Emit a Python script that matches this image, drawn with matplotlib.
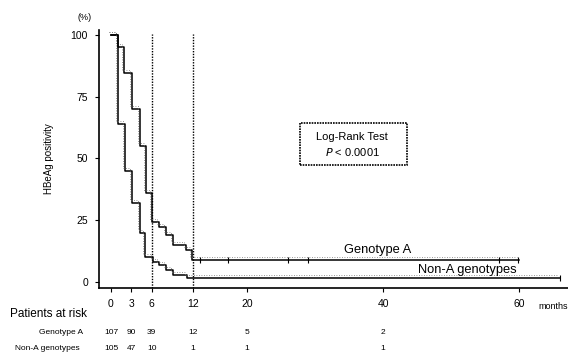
import numpy as np
import matplotlib
matplotlib.use('Agg')
import matplotlib.pyplot as plt
import matplotlib.transforms as mtransforms

plt.rcParams['font.family'] = ['Liberation Sans', 'DejaVu Sans']

# Kaplan-Meier step data (months, % HBeAg positive)
genoA_t = [0, 1.0, 1.9, 3.1, 4.2, 5.15, 6.1, 7.0, 8.1, 9.1, 11.0, 11.9, 60]
genoA_y = [100, 95, 84.5, 70, 55, 36, 24.4, 22.4, 19, 15, 13, 9, 9]
genoA_cens = [13.1, 17.2, 26, 29, 57, 59.9]

nonA_t = [0, 1.07, 2.1, 3.1, 4.2, 5.0, 6.2, 7.1, 8.1, 9.1, 11.2, 66]
nonA_y = [100, 64, 45, 32, 19.7, 10.2, 8.2, 6.9, 4.9, 2.8, 1.5, 1.5]
nonA_cens = [66]

xticks = [0, 3, 6, 12, 20, 40, 60]
yticks = [0, 25, 50, 75, 100]
marks = [6, 12]

risk_times = [0, 3, 6, 12, 20, 40]
risk_genoA = [107, 90, 39, 12, 5, 2]
risk_nonA = [105, 47, 10, 1, 1, 1]

fig = plt.figure(figsize=(5.68, 3.57), dpi=100)
ax = fig.add_axes([0.1743, 0.1933, 0.8257, 0.7227])
ax.set_xlim(-1.76, 67.2)
ax.set_ylim(-2.4, 102)

for t, y, cens in [(genoA_t, genoA_y, genoA_cens), (nonA_t, nonA_y, nonA_cens)]:
    ax.step(t, y, where='post', color='black', lw=1.1)
    # faint dotted shadow like the scanned print
    shadow = mtransforms.offset_copy(ax.transData, fig=fig, x=-2, y=3, units='dots')
    ax.step(t, y, where='post', color='#777777', lw=0.6, ls=(0, (1, 2)), transform=shadow)
    yc = np.interp(cens, t, y)
    ax.plot(cens, yc, ls='none', marker='|', ms=5, color='black', mew=0.8)

for m in marks:
    ax.plot([m, m], [-2.4, 100.5], color='black', lw=1.0, ls=(0, (1, 1)))

ax.spines['top'].set_visible(False)
ax.spines['right'].set_visible(False)
ax.spines['left'].set_linewidth(1.2)
ax.spines['bottom'].set_linewidth(1.2)
ax.set_xticks(xticks)
ax.set_yticks(yticks)
ax.tick_params(direction='out', length=3, width=0.8, labelsize=7.5, pad=5)
ax.set_ylabel('HBeAg positivity', fontsize=7, labelpad=12)
ax.text(-0.03, 1.047, '(%)', transform=ax.transAxes, fontsize=6.5, ha='center', va='center')
ax.text(1.0, -0.07, 'months', transform=ax.transAxes, fontsize=6.5, ha='right', va='center')

ax.text(0.54, 0.575, 'Log-Rank Test', transform=ax.transAxes, fontsize=8, ha='center')
ax.text(0.54, 0.51, r'$P$ < 0.0001', transform=ax.transAxes, fontsize=8, ha='center')
box = plt.Rectangle((0.428, 0.475), 0.229, 0.163, transform=ax.transAxes,
                    fill=False, lw=1.2, ls=(0, (1, 0.6)), color='black')
ax.add_patch(box)

ax.text(0.595, 0.147, 'Genotype A', transform=ax.transAxes, fontsize=9.3, ha='center', va='center')
ax.text(0.785, 0.07, 'Non-A genotypes', transform=ax.transAxes, fontsize=9.3, ha='center', va='center')

# patients at risk table
fig.text(0.018, 1 - 314 / 357, 'Patients at risk', fontsize=8.5, va='center')
fig.text(0.146, 1 - 332 / 357, 'Genotype A', fontsize=6, va='center', ha='right')
fig.text(0.141, 1 - 349 / 357, 'Non-A genotypes', fontsize=6, va='center', ha='right')
tr = mtransforms.blended_transform_factory(ax.transData, fig.transFigure)
for t, a, b in zip(risk_times, risk_genoA, risk_nonA):
    ax.text(t, 1 - 332 / 357, str(a), transform=tr, fontsize=6, ha='center', va='center')
    ax.text(t, 1 - 349 / 357, str(b), transform=tr, fontsize=6, ha='center', va='center')

fig.savefig('out.png', dpi=100)
